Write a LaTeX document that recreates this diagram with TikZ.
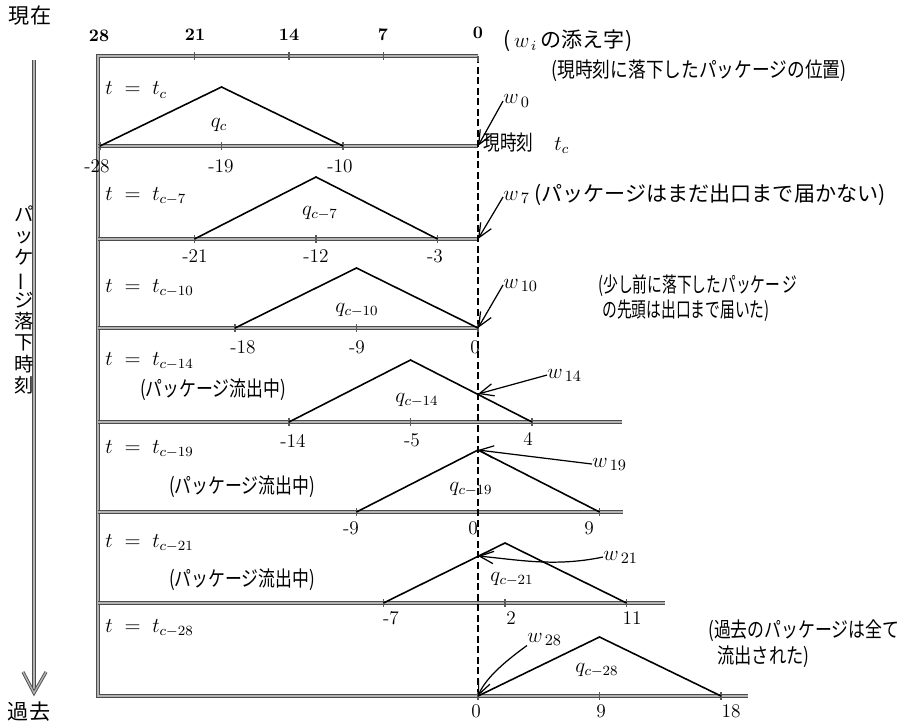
\documentclass[tikz,border=0pt]{standalone}
\usepackage{fontspec}
\newfontfamily\jp{Noto Sans CJK JP}
\usetikzlibrary{arrows.meta}
\newcommand\cnd[2][0.8]{\scalebox{#1}[1]{#2}}
\tikzset{
  frameline/.style={draw=black!70, double=black!30, double distance=0.8pt, line width=0.5pt},
  tri/.style={draw=black, line width=0.9pt, line join=miter},
  exitline/.style={draw=black, dash pattern=on 4pt off 2pt, line width=0.65pt},
  ptr/.style={draw=black, line width=0.7pt, -{Straight Barb[length=8pt,width=7pt]}},
  tickmark/.style={draw=black!65, line width=0.6pt},
  num/.style={font=\fontsize{11}{12}\selectfont, inner sep=0pt},
  topnum/.style={font=\fontsize{10}{11}\selectfont\bfseries, inner sep=0pt},
  tlab/.style={font=\fontsize{12}{14}\selectfont, anchor=base west, inner sep=0pt},
  qlab/.style={font=\fontsize{12}{14}\selectfont, inner sep=0pt},
  wlab/.style={font=\fontsize{12.5}{14}\selectfont, anchor=base west, inner sep=0pt},
  jpt/.style={font=\jp\fontsize{12}{14}\selectfont, inner sep=0pt},
  jpv/.style={font=\jp\fontsize{11}{12.2}\selectfont, inner sep=0pt, align=center},
}
\begin{document}
\begin{tikzpicture}[x=0.02cm,y=-0.02cm]
\useasboundingbox (0,0) rectangle (905,726);
\fill[white] (0,0) rectangle (905,726);

% ---- time arrow on the left
\node[jpt] (now) at (30,16) {現在};
\node[jpt] (past) at (29,712) {過去};
\coordinate (arrtop) at (34,60);
\coordinate (arrbot) at (34,693);
\coordinate (arrL) at (23,672);
\coordinate (arrR) at (46,672);
\draw[frameline] (arrtop) -- (arrbot);
\draw[frameline] (arrL) -- (arrbot) -- (arrR);
\node[jpv] (droptime) at (24,300) {パ\\ッ\\ケ\\\rotatebox[origin=c]{90}{ー}\\ジ\\落\\下\\時\\刻};

% ---- frame and base lines
\coordinate (TL) at (98,56);
\coordinate (TR) at (478,56);
\coordinate (BL) at (98,696);
\coordinate (BR) at (748,696);
\draw[frameline] (TR) -- (TL) -- (BL) -- (BR);
\draw[frameline] (98,146) -- (478,146);
\draw[frameline] (98,239) -- (478,239);
\draw[frameline] (98,328) -- (478,328);
\draw[frameline] (98,422) -- (622,422);
\draw[frameline] (98,512) -- (623,512);
\draw[frameline] (98,603) -- (665,603);

% exit position (dashed)
\coordinate (exitbot) at (478,696);
\draw[exitline] (TR) -- (exitbot);
\draw[tickmark] (478,56) -- (478,62);

% ticks
\foreach \x in {194.5,289,383.5} \draw[tickmark] (\x,52) -- (\x,60);
\foreach \x/\y in {100/146,221.5/146,343/146,
                   194.5/239,316/239,437.5/239,
                   235/328,356.5/328,478/328,
                   289/422,410.5/422,532/422,
                   356.5/512,599.5/512,
                   383.5/603,505/603,626.5/603,
                   478/696,599.5/696,721/696}
  \draw[tickmark] (\x,\y-4) -- (\x,\y+4);

% ---- top scale numbers
\node[topnum] (n28) at (99,36) {28};
\node[topnum] (n21) at (195,35) {21};
\node[topnum] (n14) at (289,35) {14};
\node[topnum] (n7) at (383,35) {7};
\node[topnum] (n0) at (478,33) {0};

% ---- triangles
\coordinate (a1) at (100,146);   \coordinate (b1) at (221.5,87);  \coordinate (c1) at (343,146);
\coordinate (a2) at (194.5,239); \coordinate (b2) at (316,177);   \coordinate (c2) at (437.5,239);
\coordinate (a3) at (235,328);   \coordinate (b3) at (356.5,268); \coordinate (c3) at (478,328);
\coordinate (a4) at (289,422);   \coordinate (b4) at (410.5,360); \coordinate (c4) at (532,422);
\coordinate (a5) at (356.5,512); \coordinate (b5) at (478,450);   \coordinate (c5) at (599.5,512);
\coordinate (a6) at (383.5,603); \coordinate (b6) at (505,543);   \coordinate (c6) at (626.5,603);
\coordinate (a7) at (478,696);   \coordinate (b7) at (599.5,637); \coordinate (c7) at (721,696);
\foreach \i in {1,...,7} \draw[tri] (a\i) -- (b\i) -- (c\i);

% ---- row labels
\node[tlab] (t1) at (105,95)  {$t\;=\;t_{c}$};
\node[tlab] (t2) at (105,200) {$t\;=\;t_{c-7}$};
\node[tlab] (t3) at (105,292) {$t\;=\;t_{c-10}$};
\node[tlab] (t4) at (105,365) {$t\;=\;t_{c-14}$};
\node[tlab] (t5) at (105,453) {$t\;=\;t_{c-19}$};
\node[tlab] (t6) at (105,547) {$t\;=\;t_{c-21}$};
\node[tlab] (t7) at (105,632) {$t\;=\;t_{c-28}$};

\node[qlab] (q1) at (219,125) {$q_{c}$};
\node[qlab] (q2) at (320,213) {$q_{c-7}$};
\node[qlab] (q3) at (357,310) {$q_{c-10}$};
\node[qlab] (q4) at (417,400) {$q_{c-14}$};
\node[qlab] (q5) at (471,489) {$q_{c-19}$};
\node[qlab] (q6) at (512,579) {$q_{c-21}$};
\node[qlab] (q7) at (597,670) {$q_{c-28}$};

% ---- numbers under the lines
\node[num] (r1a) at (97,166) {-28};   \node[num] (r1b) at (221,166) {-19};  \node[num] (r1c) at (340,166) {-10};
\node[num] (r2a) at (195,256) {-21};  \node[num] (r2b) at (316,256) {-12};  \node[num] (r2c) at (435,256) {-3};
\node[num] (r3a) at (243,347) {-18};  \node[num] (r3b) at (357,347) {-9};   \node[num] (r3c) at (475,347) {0};
\node[num] (r4a) at (293,441) {-14};  \node[num] (r4b) at (412,440) {-5};   \node[num] (r4c) at (528,439) {4};
\node[num] (r5a) at (351,528) {-9};   \node[num] (r5b) at (473,528) {0};    \node[num] (r5c) at (589,528) {9};
\node[num] (r6a) at (391,618) {-7};   \node[num] (r6b) at (511,618) {2};    \node[num] (r6c) at (632,618) {11};
\node[num] (r7a) at (476,711) {0};    \node[num] (r7b) at (601,711) {9};    \node[num] (r7c) at (731,711) {18};

% ---- outflow notes
\node[jpt] (flow14) at (213,390) {\cnd{(パッケージ流出中)}};
\node[jpt] (flow19) at (242,487) {\cnd{(パッケージ流出中)}};
\node[jpt] (flow21) at (242,580) {\cnd{(パッケージ流出中)}};

% ---- right-hand notes
\node[jpt, anchor=west] (idx) at (503,41) {(\,$w_{\,i}$\,の添え字)};
\node[jpt] (idxnote) at (699,71) {\cnd[0.84]{(現時刻に落下したパッケージの位置)}};
\node[jpt, anchor=west] (nowlab) at (483,143) {\cnd[0.79]{現時刻}\quad$t_{c}$};
\node[jpt, anchor=west] (note7) at (534,195) {\cnd[1.0]{(パッケージはまだ出口まで届かない)}};
\node[jpt, anchor=west] (note10a) at (598,286) {\cnd[0.7]{(少し前に落下したパッケー\,ジ}};
\node[jpt, anchor=west] (note10b) at (602,311) {\cnd[0.7]{の先頭は出口まで届いた)}};
\node[jpt, anchor=west] (note28a) at (708,631) {\cnd[0.8]{(過去のパッケージは全て}};
\node[jpt, anchor=west] (note28b) at (717,657) {\cnd[0.82]{流出された)}};

% ---- w labels and pointers
\coordinate (p0) at (478,146);
\coordinate (p7) at (478,239);
\coordinate (p14) at (478,394);
\coordinate (p21) at (478,556);
\node[wlab] (w0) at (503,104) {$w_{\,0}$};
\node[wlab] (w7) at (503,200) {$w_{\,7}$};
\node[wlab] (w10) at (503,288) {$w_{\,10}$};
\node[wlab] (w14) at (547,378) {$w_{\,14}$};
\node[wlab] (w19) at (592,467) {$w_{\,19}$};
\node[wlab] (w21) at (603,560) {$w_{\,21}$};
\node[wlab] (w28) at (527,642) {$w_{\,28}$};
\draw[ptr] (w0.west) -- (p0);
\draw[ptr] (w7.west) -- (p7);
\draw[ptr] (w10.west) -- (c3);
\draw[ptr] (w14.west) -- (p14);
\draw[ptr] (w19.west) -- (b5);
\draw[ptr] (w21.west) .. controls (555,567) and (520,560) .. (p21);
\draw[ptr] (w28.south west) .. controls (500,665) and (485,680) .. (a7);
\end{tikzpicture}
\end{document}
